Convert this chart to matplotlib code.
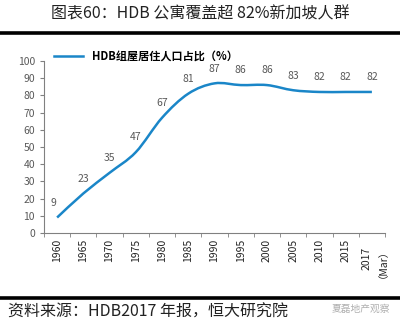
import matplotlib.pyplot as plt
from matplotlib.path import Path
from matplotlib.patches import PathPatch
from matplotlib.lines import Line2D
import numpy as np

plt.rcParams['font.family'] = ['Noto Sans CJK SC', 'DejaVu Sans']

# HDB share of resident population (%)
years = ['1960', '1965', '1970', '1975', '1980', '1985', '1990', '1995',
         '2000', '2005', '2010', '2015', '2017\n（Mar）']
share = [9, 23, 35, 47, 67, 81, 87, 86, 86, 83, 82, 82, 82]

blue = '#1a86c8'
grey = '#595959'

fig = plt.figure(figsize=(4, 3.25), dpi=100)

# header and footer rules
fig.add_artist(Line2D([0, 1], [1 - 33 / 325] * 2, color='black', lw=2.6))
fig.add_artist(Line2D([0, 1], [1 - 298 / 325] * 2, color='black', lw=2.6))
fig.text(0.5, 1 - 14 / 325, '图表60：HDB 公寓覆盖超 82%新加坡人群',
         ha='center', va='center', fontsize=11.5, color='#222222')
fig.text(0.02, 1 - 312 / 325, '资料来源：HDB2017 年报，恒大研究院',
         ha='left', va='center', fontsize=11.5, color='#222222')
fig.text(0.975, 1 - 309 / 325, '夏磊地产观察', ha='right', va='center',
         fontsize=7, color='#b0b0b0')

ax = fig.add_axes([0.11, 1 - 233 / 325, 0.8525, (233 - 61) / 325])

# smoothed line through the points (Catmull-Rom converted to cubic Bezier)
x = np.arange(len(share))
y = np.array(share, dtype=float)
verts = [(x[0], y[0])]
codes = [Path.MOVETO]
for i in range(len(x) - 1):
    p0 = (x[max(i - 1, 0)], y[max(i - 1, 0)])
    p1 = (x[i], y[i])
    p2 = (x[i + 1], y[i + 1])
    p3 = (x[min(i + 2, len(x) - 1)], y[min(i + 2, len(x) - 1)])
    c1 = (p1[0] + (p2[0] - p0[0]) / 6, p1[1] + (p2[1] - p0[1]) / 6)
    c2 = (p2[0] - (p3[0] - p1[0]) / 6, p2[1] - (p3[1] - p1[1]) / 6)
    verts += [c1, c2, p2]
    codes += [Path.CURVE4] * 3
ax.add_patch(PathPatch(Path(verts, codes), facecolor='none',
                       edgecolor=blue, lw=1.8))

for xi, v in zip(x, share):
    ax.annotate(str(v), (xi, v), xytext=(-3 if xi == 0 else 0, 7),
                textcoords='offset points', ha='center', va='bottom',
                fontsize=7.5, color=grey)

ax.set_xlim(-0.5, len(share) - 0.5)
ax.set_ylim(0, 100)
ax.set_yticks(range(0, 101, 10))
ax.set_xticks(x)
ax.set_xticklabels(years, rotation=90, fontsize=7.5, color='#222222')
ax.set_xticks(np.arange(-0.5, len(share), 1), minor=True)
ax.tick_params(axis='x', which='major', length=0, pad=4)
ax.tick_params(axis='x', which='minor', length=3, color='#808080')
ax.tick_params(axis='y', length=3, labelsize=7.5, labelcolor=grey,
               color='#808080')
for side in ['top', 'right']:
    ax.spines[side].set_visible(False)
for side in ['left', 'bottom']:
    ax.spines[side].set_color('#808080')
    ax.spines[side].set_linewidth(0.8)

ax.legend([Line2D([0], [0], color=blue, lw=1.8)],
          ['HDB组屋居住人口占比（%）'], loc='upper left',
          bbox_to_anchor=(0.0, 1.12), frameon=False, handlelength=2.6,
          prop={'size': 8, 'weight': 'bold'})

fig.savefig('out.png', dpi=100)
